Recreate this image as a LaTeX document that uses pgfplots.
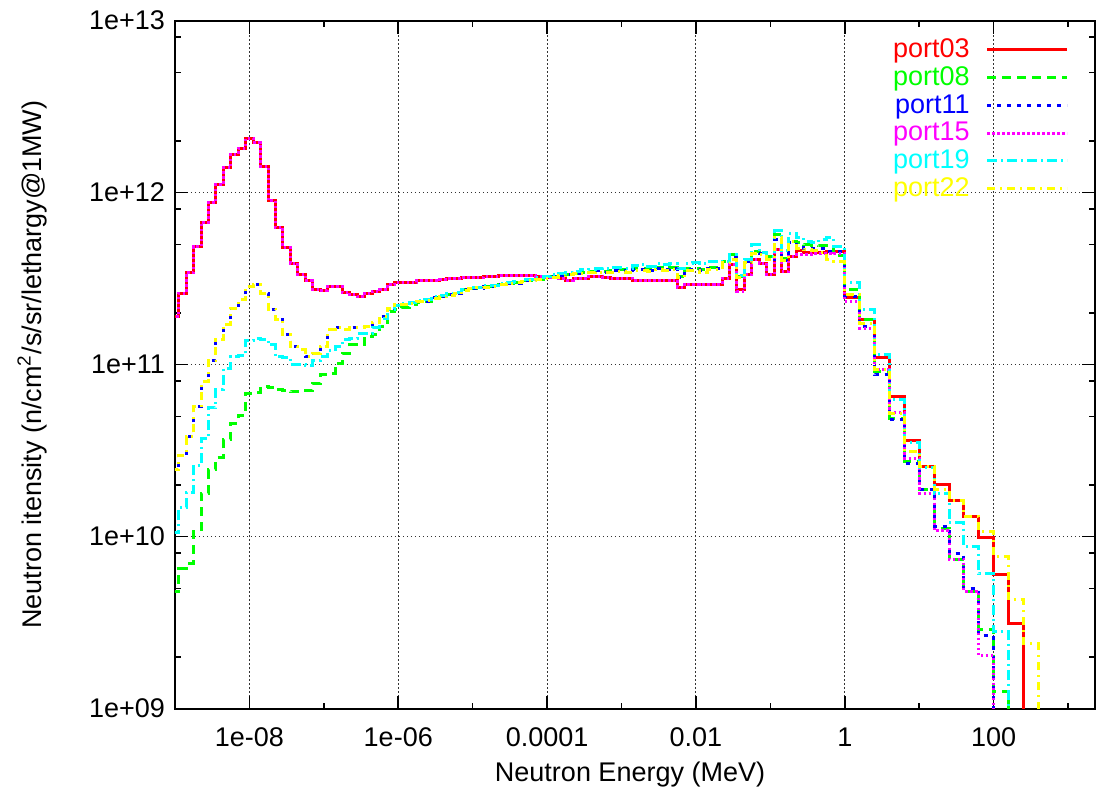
\documentclass[border=0pt]{standalone}
\usepackage{fontspec}
\setmainfont{Liberation Sans}
\usepackage{pgfplots}
\pgfplotsset{compat=1.18}
\usepackage{pgfplotstable}

\definecolor{gpred}{RGB}{255,0,0}
\definecolor{gpgreen}{RGB}{0,255,0}
\definecolor{gpblue}{RGB}{0,0,255}
\definecolor{gpmag}{RGB}{255,0,255}
\definecolor{gpcyan}{RGB}{0,255,255}
\definecolor{gpyellow}{RGB}{255,255,0}

% left bin edge (MeV), then the six port spectra
\pgfplotstableread{
x p03 p08 p11 p15 p19 p22
8.913e-10 1.9e11 4.8e9 2.44e10 1.9e11 1.05e10 2.44e10
1.122e-9 2.6e11 6.5e9 2.98e10 2.6e11 1.47e10 2.98e10
1.413e-9 3.43e11 7.0e9 3.8e10 3.43e11 1.8e10 3.8e10
1.778e-9 4.85e11 1.07e10 5.68e10 4.85e11 2.6e10 5.68e10
2.239e-9 6.7e11 1.78e10 7.96e10 6.7e11 3.7e10 7.96e10
2.818e-9 8.75e11 2.44e10 1.06e11 8.75e11 5.6e10 1.06e11
3.548e-9 1.11e12 2.87e10 1.39e11 1.11e12 7.2e10 1.39e11
4.467e-9 1.39e12 3.65e10 1.72e11 1.39e12 9.5e10 1.72e11
5.623e-9 1.67e12 4.56e10 2.13e11 1.67e12 1.11e11 2.13e11
7.079e-9 1.81e12 5.05e10 2.38e11 1.81e12 1.13e11 2.38e11
8.913e-9 2.07e12 6.82e10 2.84e11 2.07e12 1.38e11 2.84e11
1.122e-8 1.95e12 6.9e10 2.91e11 1.95e12 1.42e11 2.91e11
1.413e-8 1.42e12 7.5e10 2.6e11 1.42e12 1.4e11 2.6e11
1.778e-8 8.98e11 7.4e10 2.1e11 8.98e11 1.3e11 2.1e11
2.239e-8 6.3e11 7.13e10 1.82e11 6.3e11 1.11e11 1.82e11
2.818e-8 4.79e11 7.1e10 1.49e11 4.79e11 1.1e11 1.49e11
3.548e-8 3.89e11 6.95e10 1.27e11 3.89e11 1.0e11 1.27e11
4.467e-8 3.36e11 6.95e10 1.22e11 3.36e11 1.0e11 1.22e11
5.623e-8 3.07e11 7.1e10 1.12e11 3.07e11 9.9e10 1.12e11
7.079e-8 2.74e11 7.8e10 1.16e11 2.74e11 1.06e11 1.16e11
8.913e-8 2.69e11 8.7e10 1.27e11 2.69e11 1.11e11 1.27e11
1.122e-7 2.84e11 8.9e10 1.6e11 2.84e11 1.2e11 1.6e11
1.413e-7 2.84e11 1.01e11 1.64e11 2.84e11 1.27e11 1.64e11
1.778e-7 2.63e11 1.16e11 1.6e11 2.63e11 1.4e11 1.6e11
2.239e-7 2.54e11 1.3e11 1.64e11 2.54e11 1.42e11 1.64e11
2.818e-7 2.48e11 1.3e11 1.64e11 2.48e11 1.52e11 1.64e11
3.548e-7 2.6e11 1.45e11 1.66e11 2.6e11 1.52e11 1.66e11
4.467e-7 2.66e11 1.5e11 1.75e11 2.66e11 1.65e11 1.75e11
5.623e-7 2.72e11 1.66e11 1.9e11 2.72e11 1.85e11 1.9e11
7.079e-7 2.91e11 2.03e11 2.13e11 2.91e11 2.1e11 2.13e11
8.913e-7 3.01e11 2.1e11 2.22e11 3.01e11 2.2e11 2.22e11
1.122e-6 3.01e11 2.15e11 2.22e11 3.01e11 2.25e11 2.22e11
1.413e-6 3.01e11 2.22e11 2.28e11 3.01e11 2.3e11 2.28e11
1.778e-6 3.07e11 2.3e11 2.34e11 3.07e11 2.36e11 2.34e11
2.239e-6 3.07e11 2.34e11 2.34e11 3.07e11 2.4e11 2.36e11
2.818e-6 3.07e11 2.45e11 2.45e11 3.07e11 2.48e11 2.42e11
3.548e-6 3.12e11 2.48e11 2.48e11 3.12e11 2.52e11 2.48e11
4.467e-6 3.16e11 2.54e11 2.54e11 3.16e11 2.58e11 2.52e11
5.623e-6 3.16e11 2.6e11 2.6e11 3.16e11 2.64e11 2.58e11
7.079e-6 3.2e11 2.72e11 2.72e11 3.2e11 2.74e11 2.7e11
8.913e-6 3.2e11 2.78e11 2.78e11 3.2e11 2.8e11 2.76e11
1.122e-5 3.22e11 2.8e11 2.78e11 3.22e11 2.82e11 2.8e11
1.413e-5 3.25e11 2.84e11 2.84e11 3.25e11 2.88e11 2.82e11
1.778e-5 3.25e11 2.86e11 2.84e11 3.25e11 2.9e11 2.86e11
2.239e-5 3.28e11 2.94e11 2.94e11 3.28e11 2.98e11 2.92e11
2.818e-5 3.28e11 2.97e11 2.97e11 3.28e11 3.02e11 2.97e11
3.548e-5 3.28e11 2.99e11 2.97e11 3.28e11 3.04e11 2.99e11
4.467e-5 3.28e11 3.07e11 3.07e11 3.28e11 3.12e11 3.05e11
5.623e-5 3.28e11 3.1e11 3.07e11 3.28e11 3.14e11 3.08e11
7.079e-5 3.25e11 3.14e11 3.14e11 3.25e11 3.2e11 3.14e11
8.913e-5 3.22e11 3.19e11 3.19e11 3.22e11 3.25e11 3.17e11
1.122e-4 3.22e11 3.25e11 3.25e11 3.22e11 3.32e11 3.22e11
1.413e-4 3.15e11 3.3e11 3.3e11 3.15e11 3.38e11 3.28e11
1.778e-4 3.1e11 3.35e11 3.35e11 3.1e11 3.42e11 3.32e11
2.239e-4 3.18e11 3.4e11 3.4e11 3.18e11 3.48e11 3.38e11
2.818e-4 3.18e11 3.45e11 3.45e11 3.18e11 3.55e11 3.4e11
3.548e-4 3.25e11 3.48e11 3.45e11 3.25e11 3.58e11 3.42e11
4.467e-4 3.25e11 3.5e11 3.5e11 3.25e11 3.6e11 3.45e11
5.623e-4 3.22e11 3.48e11 3.45e11 3.22e11 3.62e11 3.42e11
7.079e-4 3.18e11 3.52e11 3.5e11 3.18e11 3.65e11 3.45e11
8.913e-4 3.18e11 3.55e11 3.5e11 3.18e11 3.65e11 3.48e11
1.122e-3 3.18e11 3.5e11 3.45e11 3.18e11 3.62e11 3.45e11
1.413e-3 3.1e11 3.6e11 3.55e11 3.1e11 3.75e11 3.5e11
1.778e-3 3.1e11 3.62e11 3.55e11 3.1e11 3.8e11 3.5e11
2.239e-3 3.07e11 3.55e11 3.5e11 3.07e11 3.72e11 3.48e11
2.818e-3 3.07e11 3.65e11 3.6e11 3.07e11 3.85e11 3.55e11
3.548e-3 3.1e11 3.6e11 3.55e11 3.1e11 3.8e11 3.52e11
4.467e-3 3.1e11 3.65e11 3.6e11 3.1e11 3.85e11 3.55e11
5.623e-3 2.82e11 3.25e11 3.2e11 2.82e11 3.6e11 3.2e11
7.079e-3 2.94e11 3.6e11 3.55e11 2.94e11 3.85e11 3.5e11
8.913e-3 2.94e11 3.6e11 3.55e11 2.94e11 3.9e11 3.5e11
1.122e-2 2.94e11 3.55e11 3.5e11 2.94e11 3.85e11 3.45e11
1.413e-2 2.94e11 3.65e11 3.6e11 2.94e11 3.95e11 3.55e11
1.778e-2 2.94e11 3.65e11 3.6e11 2.94e11 3.95e11 3.55e11
2.239e-2 3.18e11 4.0e11 3.95e11 3.18e11 4.0e11 3.9e11
2.818e-2 3.8e11 4.35e11 4.2e11 3.8e11 4.35e11 4.1e11
3.548e-2 2.72e11 3.25e11 3.2e11 2.66e11 3.3e11 3.2e11
4.467e-2 3.32e11 4.0e11 4.0e11 3.32e11 4.1e11 3.9e11
5.623e-2 4.06e11 4.55e11 4.45e11 4.06e11 4.97e11 4.45e11
7.079e-2 3.89e11 4.45e11 4.4e11 3.89e11 4.5e11 4.35e11
8.913e-2 3.32e11 4.25e11 4.1e11 3.32e11 4.25e11 4.1e11
1.122e-1 4.69e11 5.67e11 5.3e11 4.69e11 6.0e11 5.5e11
1.413e-1 3.48e11 4.15e11 4.05e11 3.48e11 4.6e11 4.05e11
1.778e-1 4.25e11 5.2e11 5.1e11 4.25e11 5.8e11 5.2e11
2.239e-1 4.6e11 5.1e11 4.8e11 4.35e11 5.45e11 4.75e11
2.818e-1 4.5e11 4.97e11 4.75e11 4.35e11 5.2e11 4.65e11
3.548e-1 4.5e11 4.95e11 4.75e11 4.4e11 5.1e11 4.6e11
4.467e-1 4.5e11 4.9e11 4.7e11 4.4e11 5.3e11 4.5e11
5.623e-1 4.55e11 4.85e11 4.55e11 4.4e11 5.45e11 4.1e11
7.079e-1 4.55e11 4.3e11 4.55e11 4.45e11 4.85e11 4.0e11
1 2.45e11 2.74e11 2.48e11 2.32e11 3.01e11 2.54e11
1.585 1.82e11 1.82e11 1.66e11 1.63e11 2.1e11 1.74e11
2.512 1.1e11 9.1e10 8.7e10 9.4e10 1.14e11 9.3e10
3.981 6.52e10 4.89e10 4.77e10 5.26e10 6.29e10 5.2e10
6.310 3.61e10 2.72e10 2.67e10 2.86e10 3.51e10 3.13e10
10 2.55e10 1.87e10 1.87e10 1.79e10 2.52e10 2.55e10
15.85 2.0e10 1.12e10 1.14e10 1.09e10 1.77e10 1.87e10
25.12 1.63e10 7.4e9 7.94e9 7.4e9 1.2e10 1.63e10
39.81 1.31e10 4.8e9 4.96e9 4.8e9 8.75e9 1.31e10
63.10 9.87e9 2.87e9 2.65e9 2.03e9 6.07e9 1.07e10
100 6.0e9 1.26e9 1e7 1e7 2.81e9 7.65e9
158.5 3.14e9 1e7 1e7 1e7 1e7 4.28e9
251.2 1e7 1e7 1e7 1e7 1e7 2.4e9
398.1 1e7 1e7 1e7 1e7 1e7 1e7
631.0 1e7 1e7 1e7 1e7 1e7 1e7
}\spectra

\begin{document}
\begin{tikzpicture}
\begin{axis}[
  scale only axis, width=460pt, height=344pt,
  xmode=log, ymode=log,
  xmin=1e-9, xmax=2300, ymin=1e9, ymax=1e13,
  font=\fontsize{13.5}{16}\selectfont,
  /pgf/number format/assume math mode=true,
  xtick={1e-8,1e-6,1e-4,1e-2,1,100},
  xticklabels={1e-08,1e-06,0.0001,0.01,1,100},
  minor xtick={1e-7,1e-5,1e-3,1e-1,10,1000},
  ytick={1e9,1e10,1e11,1e12,1e13},
  yticklabels={1e+09,1e+10,1e+11,1e+12,1e+13},
  minor ytick={2e9,5e9,8e9,2e10,5e10,8e10,2e11,5e11,8e11,2e12,5e12,8e12},
  tick align=inside,
  major tick length=6.5pt, minor tick length=3pt,
  every tick/.style={black, line width=0.8pt},
  axis line style={line width=1pt},
  xmajorgrids, ymajorgrids,
  major grid style={black!80, line width=0.5pt, dash pattern=on 0.6pt off 1.4pt},
  xticklabel style={anchor=base, yshift=-19pt},
  yticklabel style={xshift=-1.5pt},
  xlabel={Neutron Energy (MeV)},
  ylabel={Neutron itensity (n/cm\textsuperscript{2}/s/sr/lethargy@1MW)},
  xlabel style={at={(axis description cs:0.4946,-0.0964)}, anchor=center},
  ylabel style={at={(axis description cs:-0.1554,0.5)}, anchor=center},
  legend plot pos=right,
  legend cell align=right,
  legend style={draw=none, fill=none, at={(1,1)}, anchor=north east,
    xshift=-10pt, yshift=-5pt, row sep=-1pt,
    font=\fontsize{13.5}{16}\selectfont},
  legend image code/.code={\path (0pt,0pt); \draw[#1] (6pt,0pt) -- (46pt,0pt);},
  every axis plot/.append style={const plot, line width=1.5pt},
]
\addplot[gpred] table[x=x, y=p03] {\spectra};
\addlegendentry{\textcolor{gpred}{port03}}
\addplot[gpgreen, dash pattern=on 4.5pt off 3pt] table[x=x, y=p08] {\spectra};
\addlegendentry{\textcolor{gpgreen}{port08}}
\addplot[gpblue, dash pattern=on 2pt off 3pt] table[x=x, y=p11] {\spectra};
\addlegendentry{\textcolor{gpblue}{port11}}
\addplot[gpmag, dash pattern=on 1.2pt off 1.3pt] table[x=x, y=p15] {\spectra};
\addlegendentry{\textcolor{gpmag}{port15}}
\addplot[gpcyan, dash pattern=on 5pt off 2pt on 1pt off 2pt] table[x=x, y=p19] {\spectra};
\addlegendentry{\textcolor{gpcyan}{port19}}
\addplot[gpyellow, dash pattern=on 4pt off 2.5pt on 1pt off 2.5pt] table[x=x, y=p22] {\spectra};
\addlegendentry{\textcolor{gpyellow}{port22}}
\coordinate (SW) at (rel axis cs:0,0);
\coordinate (NE) at (rel axis cs:1,1);
\end{axis}
\pgfresetboundingbox
\path ([shift={(-87.5pt,-45.5pt)}]SW) rectangle ([shift={(1pt,10.3pt)}]NE);
\end{tikzpicture}
\end{document}
